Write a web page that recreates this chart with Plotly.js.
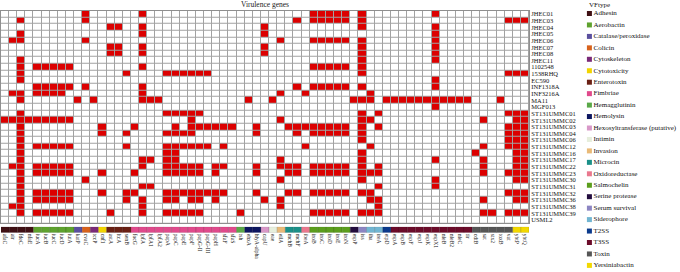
<!DOCTYPE html>
<html>
<head>
<meta charset="utf-8">
<script src="https://cdn.plot.ly/plotly-3.0.1.min.js"></script>
<style>html,body{margin:0;padding:0;background:#fff}#chart{width:680px;height:272px}</style>
</head>
<body>
<div id="chart"></div>
<script>
const genes = ["afaC","air","fdeC","nfaE","iucA","iucB","iucC","iucD","iutA","katP","cvaC","tccP","cnf1","astA","ltcA","senB","focG","lpfA","lpfA1","lpfA2","papA","papC","papE","papF","papG-II","papG-III","papH","sfaF","sfaS","tsh","ehxA","hlyA-alpha","capU","eae","eilA","mchB","mchF","ibeA","iroB","iroC","iroD","iroE","iroN","espP","iss","iha","ireA","etpD","espA","espB","espF","espJ","espK","espX1","nleB","nleB2","nleC","tir","cdtB","sat","stx2","toxB","vat","ybtP","ybtQ"];

const geneTypes = ["Adhesin","Adhesin","Adhesin","Adhesin",
  "Aerobactin","Aerobactin","Aerobactin","Aerobactin","Aerobactin",
  "Catalase/peroxidase","Colicin","Cytoskeleton","Cytotoxicity",
  "Enterotoxin","Enterotoxin","Enterotoxin",
  "Fimbriae","Fimbriae","Fimbriae","Fimbriae","Fimbriae","Fimbriae","Fimbriae","Fimbriae","Fimbriae","Fimbriae","Fimbriae","Fimbriae","Fimbriae",
  "Hemagglutinin","Hemolysin","Hemolysin","Hexosyltransferase (putative)","Intimin","Invasion",
  "Microcin","Microcin","Oxidoreductase",
  "Salmochelin","Salmochelin","Salmochelin","Salmochelin","Salmochelin",
  "Serine protease","Serum survival","Siderophore","Siderophore","T2SS",
  "T3SS","T3SS","T3SS","T3SS","T3SS","T3SS","T3SS","T3SS","T3SS","T3SS",
  "Toxin","Toxin","Toxin","Toxin","Toxin",
  "Yersiniabactin","Yersiniabactin"];

const strains = ["JHEC01","JHEC03","JHEC04","JHEC05","JHEC06","JHEC07","JHEC08","JHEC11","1102548","1538RHQ","EC590","INF1318A","INF3216A","MA11","MGF013","ST131UMMC01","ST131UMMC02","ST131UMMC03","ST131UMMC04","ST131UMMC06","ST131UMMC12","ST131UMMC16","ST131UMMC17","ST131UMMC22","ST131UMMC23","ST131UMMC30","ST131UMMC31","ST131UMMC32","ST131UMMC36","ST131UMMC38","ST131UMMC39","USML2"];

// presence (1) / absence (0) of each gene, one string per strain, grouped by 5 genes
const presence = [
"00000 00000 10000 00100 00000 00000 00000 00011 11101 00000 00010 00000 00000",
"00100 00000 10000 00000 00000 00000 00000 01011 11101 00000 00000 00000 00111",
"00000 00000 00011 00100 00000 00000 00100 00000 00001 00000 00010 00000 00000",
"00100 00000 00000 00100 00000 00000 00100 00000 00000 00000 00010 00000 00000",
"01100 00000 10000 00000 00000 00000 00001 00011 11101 00000 00010 00000 00000",
"00000 00000 00011 00100 00000 00000 00100 00000 00001 00000 00010 00000 00000",
"00000 00000 00011 00100 00000 00000 00100 00000 00001 00000 00010 00000 00000",
"00100 00000 00000 00000 00000 00000 00000 00000 00001 00000 00010 00000 00000",
"00101 11110 00000 00100 00000 00000 00000 00011 11101 00000 00000 00000 00000",
"00100 00000 00000 10000 11111 10000 00000 00000 00001 00000 00000 00000 00111",
"00100 00000 00000 00000 00000 00000 00000 00000 00000 00000 00010 00000 00000",
"00001 11110 10000 00100 00000 00000 00000 01011 11101 00000 00010 00000 00000",
"01101 11100 00000 00100 00000 00000 00001 00100 00000 10000 00000 00000 00000",
"00100 00001 01000 00111 00000 00000 10010 00000 00011 10111 11111 11100 01000",
"00000 00000 00000 00000 00000 00000 00000 00000 00000 00000 00010 00000 00000",
"00100 00000 00000 00000 11111 00000 00000 00000 00001 01000 00000 00000 00111",
"11111 11110 00000 00000 00010 00000 00001 00000 00001 10000 00000 00001 00011",
"00100 00000 00100 01000 01011 11110 01000 11111 11101 01000 00000 00000 00111",
"00100 00000 00100 10000 11110 00000 01000 01011 11101 00000 00000 00000 00111",
"00100 00000 00000 00000 00000 00000 00000 00000 00001 00000 00000 00000 00111",
"00101 11110 00000 10000 11111 10100 00000 00100 00000 10000 00000 00001 00111",
"00100 00000 00000 00000 11000 00000 00000 00000 00001 00000 00000 00010 00011",
"00100 00000 00000 00110 11000 00000 00001 00000 00001 00000 00010 00001 00011",
"01101 11110 00000 00100 11111 01100 01001 11011 11101 01000 00000 00001 00011",
"00101 11110 00100 01000 11111 01000 01000 11011 11101 11000 00000 00001 00111",
"00100 00000 10000 00000 00000 00000 00001 00000 00001 00000 00010 00000 00011",
"00100 00000 00000 00110 00000 00000 00000 00000 00000 01000 00010 00000 00000",
"00101 11110 00100 11000 11111 11100 01000 11011 11101 10000 00000 00000 00111",
"00101 11110 00000 10100 11011 01000 00101 00000 00000 11000 00000 00001 00011",
"01100 00000 00000 00100 00000 00000 00001 00000 00000 01000 00000 00000 00000",
"00101 11110 00010 00100 11111 00001 00000 00011 11101 11000 00000 00001 10111",
"00000 00000 00000 00000 00000 00000 00000 00000 00000 00000 00000 00000 00000"
];

const vfTypes = ["Adhesin","Aerobactin","Catalase/peroxidase","Colicin","Cytoskeleton","Cytotoxicity","Enterotoxin","Fimbriae","Hemagglutinin","Hemolysin","Hexosyltransferase (putative)","Intimin","Invasion","Microcin","Oxidoreductase","Salmochelin","Serine protease","Serum survival","Siderophore","T2SS","T3SS","Toxin","Yersiniabactin"];
const vfColors = ["#3f1014","#5ea22e","#5a4f9e","#d8621c","#7a2a78","#f2d400","#6a2014","#e04a8c","#5aa848","#0c1660","#d898c8","#e6eedc","#e9ba78","#1b9088","#e9788e","#5b9e1c","#220c3e","#8c85c2","#72b6d2","#0b3a8c","#6c0c2a","#565656","#f2d800"];

const z = presence.map(r => r.replace(/ /g, "").split("").map(Number));
const colorOf = t => vfColors[vfTypes.indexOf(t)];

const serif = "Liberation Serif, Times New Roman, serif";
const gridRight = 528 / 679;
const legTop = 13.5, legStep = 11.45;

const traces = [
  {
    type: "heatmap", x: genes, y: strains, z: z,
    xaxis: "x", yaxis: "y",
    colorscale: [[0, "#ffffff"], [1, "#dc0000"]], zmin: 0, zmax: 1,
    showscale: false, xgap: 1, ygap: 1, hoverinfo: "skip"
  },
  {
    type: "bar", x: genes, y: genes.map(() => 1),
    xaxis: "x2", yaxis: "y2",
    marker: { color: geneTypes.map(colorOf), line: { width: 0.6, color: "rgba(0,0,0,0.22)" } },
    showlegend: false, hoverinfo: "skip"
  },
  {
    type: "scatter", mode: "markers+text",
    x: vfTypes.map(() => 0), y: vfTypes,
    xaxis: "x3", yaxis: "y3",
    text: vfTypes, textposition: "middle right",
    textfont: { family: serif, size: 7, color: "#111" },
    marker: { symbol: "square", size: 5, color: vfColors },
    showlegend: false, hoverinfo: "skip", cliponaxis: false
  }
];

const layout = {
  width: 680, height: 272, autosize: false,
  margin: { l: 1, r: 0, t: 0, b: 0, pad: 0 },
  paper_bgcolor: "#ffffff", plot_bgcolor: "#ffffff",
  font: { family: serif, color: "#111" },
  showlegend: false, bargap: 0,
  title: { text: "Virulence genes", font: { family: serif, size: 7.5, color: "#222" },
           x: 265 / 680, xanchor: "center", y: 1 - 4.5 / 272, yanchor: "middle" },
  xaxis: {
    domain: [0, gridRight], anchor: "y", type: "category",
    categoryorder: "array", categoryarray: genes, range: [-0.5, genes.length - 0.5],
    showticklabels: false, ticks: "", showgrid: false, zeroline: false,
    showline: true, mirror: true, linecolor: "#8f8f8f", linewidth: 1, automargin: false
  },
  yaxis: {
    domain: [1 - 223.2 / 272, 1 - 10.7 / 272], anchor: "x", type: "category",
    categoryorder: "array", categoryarray: strains, range: [strains.length - 0.5, -0.5],
    tickmode: "array", tickvals: strains, ticktext: strains,
    side: "right", ticks: "", showgrid: false, zeroline: false,
    showline: true, mirror: true, linecolor: "#8f8f8f", linewidth: 1,
    tickfont: { family: serif, size: 6.5, color: "#111" }, automargin: false
  },
  xaxis2: {
    domain: [0, gridRight], anchor: "y2", type: "category",
    categoryorder: "array", categoryarray: genes, range: [-0.5, genes.length - 0.5],
    tickmode: "array", tickvals: genes, ticktext: genes,
    tickangle: 90, ticks: "", showgrid: false, zeroline: false, showline: false,
    tickfont: { family: serif, size: 5.6, color: "#111" }, automargin: false
  },
  yaxis2: {
    domain: [1 - 232.7 / 272, 1 - 226.7 / 272], anchor: "x2", range: [0, 1],
    showticklabels: false, ticks: "", showgrid: false, zeroline: false, automargin: false
  },
  xaxis3: {
    domain: [0.86, 1], anchor: "y3", range: [-0.047, 0.953], visible: false
  },
  yaxis3: {
    domain: [0, 1], anchor: "x3", type: "category",
    categoryorder: "array", categoryarray: vfTypes,
    range: [(272 - legTop) / legStep, -legTop / legStep], visible: false
  },
  shapes: [
    { type: "rect", xref: "x domain", yref: "y domain", x0: 0, x1: 1, y0: 0, y1: 1,
      fillcolor: "#a2a2a2", line: { width: 0 }, layer: "below" }
  ],
  annotations: [
    { text: "VFtype", xref: "paper", yref: "paper", x: 586 / 679, y: 1 - 4.5 / 272,
      xanchor: "left", yanchor: "middle", showarrow: false,
      font: { family: serif, size: 7, color: "#111" } }
  ]
};

Plotly.newPlot("chart", traces, layout, { staticPlot: true, displayModeBar: false });
</script>
</body>
</html>
